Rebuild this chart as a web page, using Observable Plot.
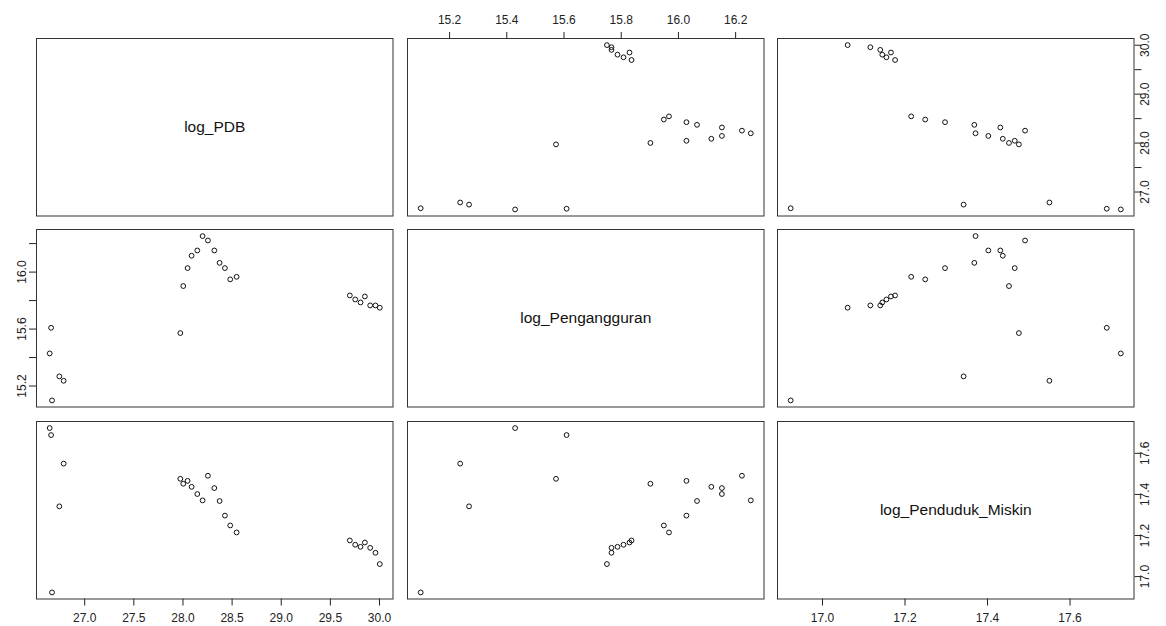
<!DOCTYPE html>
<html><head><meta charset="utf-8">
<script src="https://cdn.jsdelivr.net/npm/d3@7"></script>
<script src="https://cdn.jsdelivr.net/npm/@observablehq/plot@0.6"></script>
<style>
body{margin:0;background:#fff;}
#chart{position:relative;width:1166px;height:626px;overflow:hidden;font-family:"Liberation Sans",Arial,sans-serif;}
#chart svg{position:absolute;}
</style></head><body><div id="chart"></div>
<script>
// Variable names (diagonal labels)
const variableNames = ["log_PDB", "log_Pengangguran", "log_Penduduk_Miskin"];

const log_PDB = [26.644, 26.658, 26.668, 26.742, 26.786, 27.973, 28.003, 28.047, 28.088, 28.146, 28.200, 28.254, 28.319, 28.373, 28.427, 28.481, 28.546, 29.698, 29.753, 29.807, 29.851, 29.905, 29.959, 30.003];
const log_Pengangguran = [15.429, 15.609, 15.099, 15.268, 15.237, 15.572, 15.902, 16.028, 16.115, 16.152, 16.253, 16.222, 16.152, 16.065, 16.028, 15.949, 15.967, 15.836, 15.808, 15.787, 15.829, 15.766, 15.766, 15.750];
const log_Penduduk_Miskin = [17.723, 17.689, 16.923, 17.342, 17.550, 17.476, 17.452, 17.466, 17.437, 17.402, 17.371, 17.491, 17.431, 17.368, 17.297, 17.249, 17.215, 17.176, 17.155, 17.145, 17.166, 17.140, 17.116, 17.061];

// Tick values and which ones carry labels on vertical (rotated) axes
const ticksPDB = [27.0, 27.5, 28.0, 28.5, 29.0, 29.5, 30.0];
const verticalLabelsPDB = [27.0, 28.0, 29.0, 30.0];
const ticksPengangguran = [15.2, 15.4, 15.6, 15.8, 16.0, 16.2];
const verticalLabelsPengangguran = [15.2, 15.6, 16.0];
const ticksMiskin = [17.0, 17.2, 17.4, 17.6];
const verticalLabelsMiskin = [17.0, 17.2, 17.4, 17.6];

const vars = [
  {name: variableNames[0], values: log_PDB, ticks: ticksPDB, vlabels: verticalLabelsPDB},
  {name: variableNames[1], values: log_Pengangguran, ticks: ticksPengangguran, vlabels: verticalLabelsPengangguran},
  {name: variableNames[2], values: log_Penduduk_Miskin, ticks: ticksMiskin, vlabels: verticalLabelsMiskin}
];
const rows = log_PDB.map((_, k) => Object.fromEntries(vars.map(v => [v.name, v.values[k]])));

function domainOf(v) { const [a, b] = d3.extent(v); const p = (b - a) * 0.04; return [a - p, b + p]; }

const colLeft = [36, 406.5, 777];
const rowTop = [37.5, 229, 420.5];
const W = 356.5, H = 177.5, M = 40;
const n = vars.length;
const chart = document.getElementById("chart");
const fmt = d => d.toFixed(1);

for (let i = 0; i < n; i++) {
  for (let j = 0; j < n; j++) {
    const vx = vars[j], vy = vars[i];
    const top = i === 0 && j % 2 === 1;
    const bottom = i === n - 1 && j % 2 === 0;
    const left = j === 0 && i % 2 === 1;
    const right = j === n - 1 && i % 2 === 0;
    const marks = [Plot.frame({stroke: "#333", strokeWidth: 1})];
    if (i === j) {
      marks.push(Plot.text([vx.name], {text: d => d, frameAnchor: "middle", fontSize: 15.5, fill: "#111"}));
    } else {
      marks.push(Plot.dot(rows, {x: vx.name, y: vy.name, r: 2.4, stroke: "#111", strokeWidth: 1, fill: "none"}));
    }
    const svg = Plot.plot({
      width: W + 2 * M, height: H + 2 * M,
      marginTop: M, marginBottom: M, marginLeft: M, marginRight: M,
      style: {background: "transparent", overflow: "visible", fontFamily: '"Liberation Sans", Arial, sans-serif', fontSize: "12px", color: "#222"},
      x: {domain: domainOf(vx.values), ticks: vx.ticks, tickFormat: fmt, axis: top ? "top" : bottom ? "bottom" : null, tickSize: 7, tickPadding: top ? 8 : 7, label: null},
      y: {domain: domainOf(vy.values), ticks: vy.ticks, tickFormat: d => vy.vlabels.includes(d) ? fmt(d) : "", axis: left ? "left" : right ? "right" : null, tickSize: 7, tickPadding: right ? 8 : 4, tickRotate: -90, label: null},
      marks
    });
    svg.style.left = (colLeft[j] - M) + "px";
    svg.style.top = (rowTop[i] - M) + "px";
    chart.appendChild(svg);
  }
}
</script>
</body></html>
